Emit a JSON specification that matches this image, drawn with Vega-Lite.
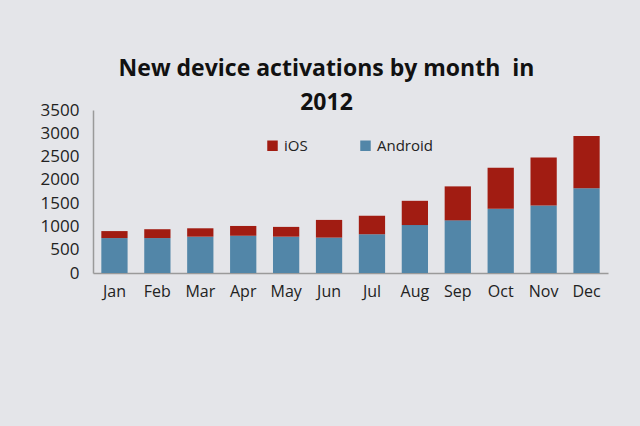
{
  "$schema": "https://vega.github.io/schema/vega-lite/v6.json",
  "width": 515,
  "height": 163,
  "padding": {"left": 40, "top": 58, "right": 32, "bottom": 127},
  "background": "#e4e5e9",
  "config": {"view": {"stroke": null}},
  "title": {
    "text": ["New device activations by month\u00a0 in", "2012"],
    "font": "Open Sans",
    "fontSize": 23,
    "fontWeight": "bold",
    "color": "#111111",
    "anchor": "middle",
    "dx": -24,
    "lineHeight": 34,
    "offset": -14
  },
  "data": {
    "values": [
      {"month": "Jan", "os": "Android", "value": 750}, {"month": "Jan", "os": "iOS", "value": 150},
      {"month": "Feb", "os": "Android", "value": 750}, {"month": "Feb", "os": "iOS", "value": 190},
      {"month": "Mar", "os": "Android", "value": 780}, {"month": "Mar", "os": "iOS", "value": 180},
      {"month": "Apr", "os": "Android", "value": 800}, {"month": "Apr", "os": "iOS", "value": 210},
      {"month": "May", "os": "Android", "value": 780}, {"month": "May", "os": "iOS", "value": 210},
      {"month": "Jun", "os": "Android", "value": 760}, {"month": "Jun", "os": "iOS", "value": 380},
      {"month": "Jul", "os": "Android", "value": 830}, {"month": "Jul", "os": "iOS", "value": 400},
      {"month": "Aug", "os": "Android", "value": 1030}, {"month": "Aug", "os": "iOS", "value": 520},
      {"month": "Sep", "os": "Android", "value": 1130}, {"month": "Sep", "os": "iOS", "value": 730},
      {"month": "Oct", "os": "Android", "value": 1380}, {"month": "Oct", "os": "iOS", "value": 880},
      {"month": "Nov", "os": "Android", "value": 1450}, {"month": "Nov", "os": "iOS", "value": 1030},
      {"month": "Dec", "os": "Android", "value": 1820}, {"month": "Dec", "os": "iOS", "value": 1120}
    ]
  },
  "mark": {"type": "bar", "width": {"band": 0.68}},
  "encoding": {
    "x": {
      "field": "month",
      "type": "ordinal",
      "sort": null,
      "title": null,
      "axis": {
        "labelAngle": 0,
        "labelFont": "Open Sans",
        "labelFontSize": 16,
        "labelColor": "#222222",
        "labelPadding": 10,
        "ticks": false,
        "domainColor": "#9a9a9a",
        "domainWidth": 1.5
      }
    },
    "y": {
      "field": "value",
      "type": "quantitative",
      "stack": "zero",
      "title": null,
      "scale": {"domain": [0, 3500]},
      "axis": {
        "values": [0, 500, 1000, 1500, 2000, 2500, 3000, 3500],
        "format": "d",
        "grid": false,
        "ticks": false,
        "labelFont": "Open Sans",
        "labelFontSize": 17,
        "labelColor": "#222222",
        "labelPadding": 14,
        "domainColor": "#9a9a9a",
        "domainWidth": 1.5
      }
    },
    "color": {
      "field": "os",
      "type": "nominal",
      "scale": {"domain": ["iOS", "Android"], "range": ["#a11c12", "#5286a8"]},
      "legend": {
        "title": null,
        "orient": "none",
        "legendX": 172,
        "legendY": 28,
        "direction": "horizontal",
        "symbolType": "square",
        "symbolSize": 110,
        "labelFont": "Open Sans",
        "labelFontSize": 15,
        "labelColor": "#222222",
        "columnPadding": 50
      }
    },
    "order": {"field": "os", "sort": "ascending"}
  }
}
